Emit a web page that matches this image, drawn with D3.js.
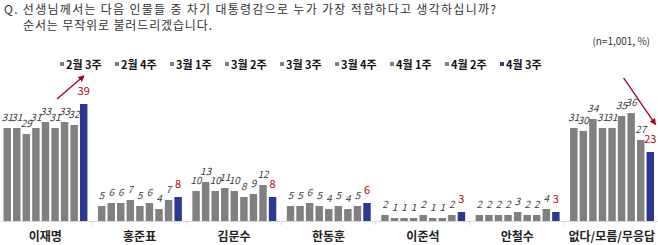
<!DOCTYPE html>
<html>
<head>
<meta charset="utf-8">
<script src="https://cdn.jsdelivr.net/npm/d3@7"></script>
<style>
  body { margin: 0; background: #fff; }
  text { font-family: "Noto Sans CJK KR", "Noto Sans", sans-serif; }
</style>
</head>
<body>
<div id="chart"></div>
<script>
var width = 658, height = 245;

var candidates = ['이재명', '홍준표', '김문수', '한동훈', '이준석', '안철수', '없다/모름/무응답'];
var weeks = ['2월 3주', '2월 4주', '3월 1주', '3월 2주', '3월 3주', '3월 4주', '4월 1주', '4월 2주', '4월 3주'];

var leeJM   = [31, 31, 29, 31, 33, 31, 33, 32, 39];
var hongJP  = [5, 6, 6, 7, 5, 6, 4, 7, 8];
var kimMS   = [10, 13, 10, 11, 10, 8, 9, 12, 8];
var hanDH   = [5, 5, 6, 5, 4, 5, 4, 5, 6];
var leeJS   = [2, 1, 1, 1, 2, 1, 1, 2, 3];
var ahnCS   = [2, 2, 2, 2, 3, 2, 2, 4, 3];
var noneDK  = [31, 30, 34, 31, 31, 35, 36, 27, 23];

var series = [leeJM, hongJP, kimMS, hanDH, leeJS, ahnCS, noneDK];

var gray = '#808080', navy = '#2B3990', red = '#C00000', arrowRed = '#A50021';

var svg = d3.select('#chart')
  .append('svg')
    .attr('width', width)
    .attr('height', height);

// title (stretched to the reference's wide spacing)
svg.append('text')
  .attr('x', 4).attr('y', 14)
  .attr('textLength', 492)
  .attr('lengthAdjust', 'spacing')
  .style('font-size', '12px')
  .style('fill', '#333')
  .text('Q. 선생님께서는 다음 인물들 중 차기 대통령감으로 누가 가장 적합하다고 생각하십니까?');
svg.append('text')
  .attr('x', 23).attr('y', 30)
  .attr('textLength', 189)
  .attr('lengthAdjust', 'spacing')
  .style('font-size', '12px')
  .style('fill', '#333')
  .text('순서는 무작위로 불러드리겠습니다.');

svg.append('text')
  .attr('x', 650).attr('y', 45)
  .style('font-size', '10px')
  .style('fill', '#333')
  .style('text-anchor', 'end')
  .text('(n=1,001, %)');

// legend
var legendX = d3.scalePoint().domain(weeks).range([60, 500]);
var legend = svg.selectAll('.legend')
  .data(weeks)
  .enter().append('g')
    .attr('transform', function(d) { return 'translate(' + legendX(d) + ',65)'; });
legend.append('rect')
  .attr('x', 0).attr('y', -3)
  .attr('width', 4).attr('height', 4)
  .style('fill', function(d, i) { return i == weeks.length - 1 ? navy : gray; });
legend.append('text')
  .attr('x', 6).attr('y', 4)
  .style('font-size', '11px')
  .style('font-weight', 'bold')
  .style('fill', '#111')
  .text(function(d) { return d; });

// scales
var x0 = d3.scaleBand().domain(candidates).range([-2, 659]);
var x1 = d3.scaleBand().domain(weeks).range([5.5, x0.bandwidth() - 5]).paddingInner(0.22);
var y = d3.scaleLinear().domain([0, 39]).range([221, 104]);

// baseline + group ticks
svg.append('line')
  .attr('x1', 0).attr('x2', width)
  .attr('y1', y(0) + 0.5).attr('y2', y(0) + 0.5)
  .style('stroke', '#d9d9d9');
svg.selectAll('.sep')
  .data(candidates.slice(1))
  .enter().append('line')
    .attr('x1', function(d) { return x0(d); })
    .attr('x2', function(d) { return x0(d); })
    .attr('y1', y(0)).attr('y2', y(0) + 4)
    .style('stroke', '#d9d9d9');

var groups = svg.selectAll('.group')
  .data(candidates)
  .enter().append('g')
    .attr('transform', function(d) { return 'translate(' + x0(d) + ',0)'; });

groups.selectAll('rect')
  .data(function(d, i) { return series[i]; })
  .enter().append('rect')
    .attr('x', function(d, i) { return x1(weeks[i]); })
    .attr('y', function(d) { return y(d); })
    .attr('width', x1.bandwidth())
    .attr('height', function(d) { return y(0) - y(d); })
    .style('fill', function(d, i) { return i == weeks.length - 1 ? navy : gray; });

groups.selectAll('.val')
  .data(function(d, i) { return series[i]; })
  .enter().append('text')
    .attr('x', function(d, i) { return x1(weeks[i]) + x1.bandwidth() / 2; })
    .attr('y', function(d, i) { return y(d) - (i == weeks.length - 1 ? 9 : 7); })
    .style('text-anchor', 'middle')
    .style('font-size', function(d, i) { return i == weeks.length - 1 ? '11px' : '10px'; })
    .style('font-style', function(d, i) { return i == weeks.length - 1 ? 'normal' : 'italic'; })
    .style('fill', function(d, i) { return i == weeks.length - 1 ? red : '#404040'; })
    .text(function(d) { return d; });

// category labels
svg.selectAll('.cat')
  .data(candidates)
  .enter().append('text')
    .attr('x', function(d) { return x0(d) + x0.bandwidth() / 2; })
    .attr('y', 241)
    .style('text-anchor', 'middle')
    .style('font-size', '12px')
    .style('font-weight', 'bold')
    .style('fill', '#222')
    .text(function(d) { return d; });

// arrows
svg.append('defs').append('marker')
  .attr('id', 'head')
  .attr('viewBox', '0 0 10 10')
  .attr('refX', 8).attr('refY', 5)
  .attr('markerWidth', 5).attr('markerHeight', 5)
  .attr('orient', 'auto')
  .append('path')
    .attr('d', 'M0,0L10,5L0,10z')
    .style('fill', arrowRed);

function cx(cand, i) { return x0(cand) + x1(weeks[i]) + x1.bandwidth() / 2; }

svg.append('line')
  .attr('x1', cx(candidates[0], 5) + 2).attr('y1', y(40.7))
  .attr('x2', cx(candidates[0], 8)).attr('y2', y(48.3))
  .style('stroke', arrowRed).style('stroke-width', 1.3)
  .attr('marker-end', 'url(#head)');

svg.append('line')
  .attr('x1', cx(candidates[6], 5) + 2).attr('y1', y(47.7))
  .attr('x2', cx(candidates[6], 8) + 5).attr('y2', y(32.3))
  .style('stroke', arrowRed).style('stroke-width', 1.3)
  .attr('marker-end', 'url(#head)');
</script>
</body>
</html>
